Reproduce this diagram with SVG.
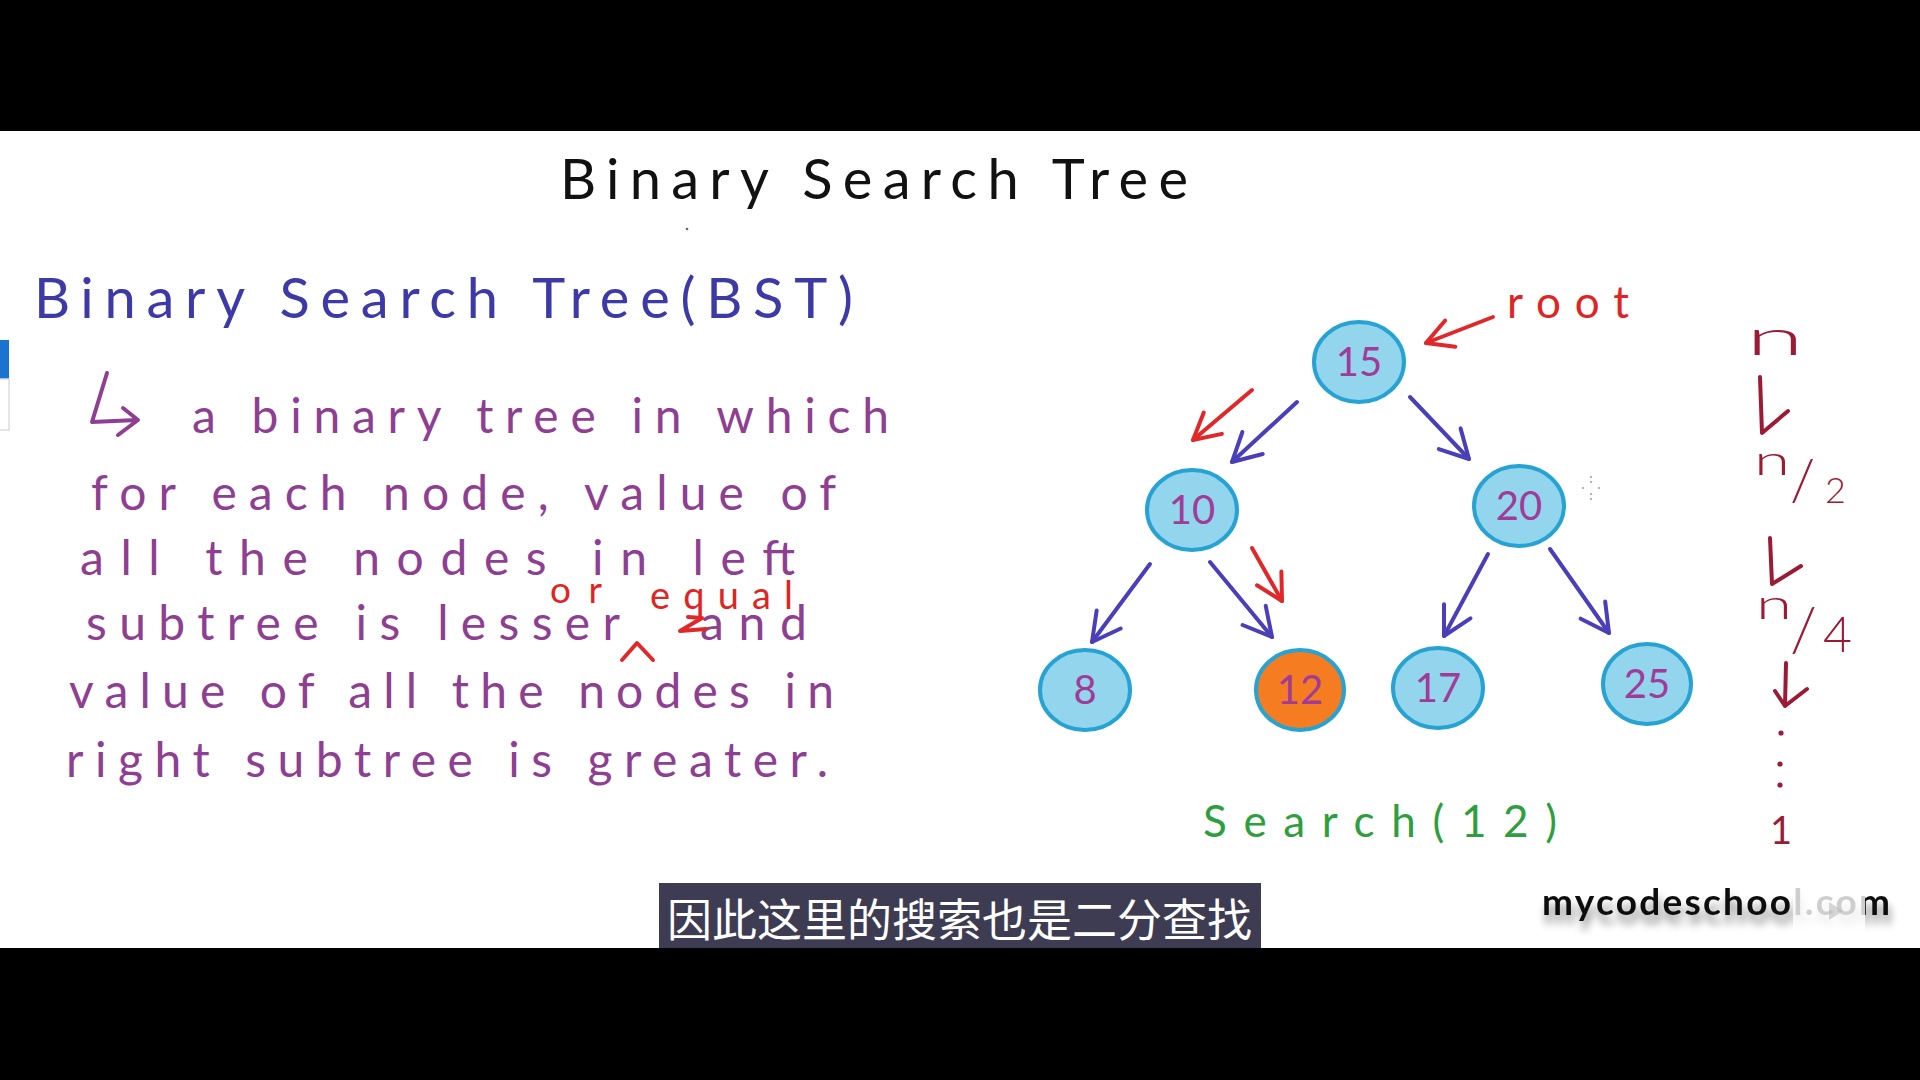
<svg xmlns="http://www.w3.org/2000/svg" width="1920" height="1080" viewBox="0 0 1920 1080">
<style>
.hand{font-family:Lato,"Open Sans","Liberation Sans",sans-serif;}
.title{font-size:56px;fill:#111;}
.head{font-size:56px;fill:#3d3aa8;}
.para{font-size:48px;fill:#8e3f92;}
.redt{fill:#e02424;}
.node{fill:#93d5ec;stroke:#27a3d3;stroke-width:4;}
.node.hit{fill:#f57c20;}
.num{font-size:40px;fill:#a03c98;text-anchor:middle;}
.blue{stroke:#4a3fb8;stroke-width:4;fill:none;stroke-linecap:round;stroke-linejoin:round;}
.red{stroke:#e0282a;stroke-width:4;fill:none;stroke-linecap:round;stroke-linejoin:round;}
.dred{stroke:#9b1b35;stroke-width:4;fill:none;stroke-linecap:round;stroke-linejoin:round;}
.dredt{fill:#9b1b35;}
.pur{stroke:#8e3f92;stroke-width:4;fill:none;stroke-linecap:round;stroke-linejoin:round;}
</style>
<defs>
<marker id="ahBlue" markerUnits="userSpaceOnUse" markerWidth="40" markerHeight="40" refX="0" refY="0" orient="auto" overflow="visible">
<path d="M-28,-15 L0,0 L-28,15" fill="none" stroke="#4a3fb8" stroke-width="4" stroke-linecap="round" stroke-linejoin="round"/>
</marker>
<marker id="ahRed" markerUnits="userSpaceOnUse" markerWidth="40" markerHeight="40" refX="0" refY="0" orient="auto" overflow="visible">
<path d="M-26,-14 L0,0 L-26,14" fill="none" stroke="#e0282a" stroke-width="4" stroke-linecap="round" stroke-linejoin="round"/>
</marker>
<filter id="shadow" x="-10%" y="-50%" width="120%" height="220%">
<feGaussianBlur in="SourceAlpha" stdDeviation="4"/>
<feOffset dx="2" dy="9" result="b"/>
<feComponentTransfer><feFuncA type="linear" slope="0.45"/></feComponentTransfer>
<feMerge><feMergeNode/><feMergeNode in="SourceGraphic"/></feMerge>
</filter>
</defs>

<rect x="0" y="0" width="1920" height="1080" fill="#000"/>
<rect x="0" y="131" width="1920" height="817" fill="#fff"/>

<!-- left edge tab -->
<rect x="0" y="340" width="9" height="39" fill="#1a73d1"/>
<rect x="-1" y="379" width="10" height="51" fill="#fff" stroke="#dcdcdc" stroke-width="1.5"/>

<!-- titles -->
<text class="hand title" x="560" y="199" textLength="628">Binary Search Tree</text>
<circle cx="687" cy="229" r="1.3" fill="#666"/>
<text class="hand head" x="34" y="318" textLength="819">Binary Search Tree(BST)</text>

<!-- definition paragraph -->
<g id="definition">
<path class="pur" d="M107,373 L92,422 L137,420 M123,408 L138,420 L118,435"/>
<text class="hand para" x="192" y="433" textLength="697">a binary tree in which</text>
<text class="hand para" x="91" y="510" textLength="745">for each node, value of</text>
<text class="hand para" x="80" y="575" textLength="715">all the nodes in left</text>
<text class="hand para" x="86" y="640" textLength="534">subtree is lesser</text>
<text class="hand para" x="700" y="640" textLength="107">and</text>
<text class="hand para" x="69" y="708" textLength="765">value of all the nodes in</text>
<text class="hand para" x="66" y="777" textLength="762">right subtree is greater.</text>
<text class="hand redt" x="550" y="603" font-size="37" textLength="52">or</text>
<text class="hand redt" x="650" y="609" font-size="38" textLength="143">equal</text>
<path class="red" stroke-width="3.5" d="M622,660 L637,643 L653,660"/>
<path class="red" stroke-width="3.5" d="M688,617 L702,618 L680,631 L706,629"/>
</g>

<!-- connectors -->
<g id="connectors">
<line class="blue" x1="1297" y1="402" x2="1232" y2="462" marker-end="url(#ahBlue)"/>
<line class="blue" x1="1410" y1="397" x2="1469" y2="459" marker-end="url(#ahBlue)"/>
<line class="blue" x1="1150" y1="564" x2="1092" y2="642" marker-end="url(#ahBlue)"/>
<line class="blue" x1="1210" y1="562" x2="1272" y2="637" marker-end="url(#ahBlue)"/>
<line class="blue" x1="1488" y1="554" x2="1444" y2="636" marker-end="url(#ahBlue)"/>
<line class="blue" x1="1550" y1="549" x2="1609" y2="633" marker-end="url(#ahBlue)"/>
<line class="red" x1="1493" y1="317" x2="1426" y2="343" marker-end="url(#ahRed)"/>
<line class="red" x1="1252" y1="390" x2="1193" y2="440" marker-end="url(#ahRed)"/>
<line class="red" x1="1252" y1="548" x2="1282" y2="601" marker-end="url(#ahRed)"/>
</g>

<!-- nodes -->
<g id="node-15"><ellipse class="node" cx="1359" cy="362" rx="45" ry="40"/><text class="hand num" x="1359" y="376">15</text></g>
<g id="node-10"><ellipse class="node" cx="1192" cy="510" rx="45" ry="40"/><text class="hand num" x="1192" y="524">10</text></g>
<g id="node-20"><ellipse class="node" cx="1519" cy="506" rx="45" ry="40"/><text class="hand num" x="1519" y="520">20</text></g>
<g id="node-8"><ellipse class="node" cx="1085" cy="690" rx="45" ry="40"/><text class="hand num" x="1085" y="704">8</text></g>
<g id="node-12"><ellipse class="node hit" cx="1300" cy="690" rx="44" ry="40"/><text class="hand num" x="1300" y="704">12</text></g>
<g id="node-17"><ellipse class="node" cx="1438" cy="688" rx="45" ry="40"/><text class="hand num" x="1438" y="702">17</text></g>
<g id="node-25"><ellipse class="node" cx="1647" cy="684" rx="44" ry="40"/><text class="hand num" x="1647" y="698">25</text></g>

<!-- labels -->
<text class="hand redt" x="1507" y="318" font-size="44" textLength="122">root</text>
<text class="hand" x="1203" y="837" font-size="44" fill="#2e9e3e" textLength="354">Search(12)</text>

<!-- cursor artifact -->
<g fill="#999">
<circle cx="1591" cy="477" r="1"/><circle cx="1591" cy="482" r="1"/><circle cx="1583" cy="488" r="1"/><circle cx="1599" cy="488" r="1"/><circle cx="1591" cy="494" r="1"/><circle cx="1591" cy="499" r="1"/>
</g>

<!-- complexity column -->
<g id="complexity">
<text class="hand dredt" x="1746" y="355" font-size="50" font-weight="300" textLength="58" lengthAdjust="spacingAndGlyphs">n</text>
<path class="dred" d="M1760,377 L1762,433 L1788,411"/>
<text class="hand dredt" font-weight="300"><tspan x="1754" y="475" font-size="42" textLength="36" lengthAdjust="spacingAndGlyphs">n</tspan><tspan x="1790" y="500" font-size="58">/</tspan><tspan x="1825" y="503" font-size="36">2</tspan></text>
<path class="dred" d="M1770,538 L1772,584 L1801,566"/>
<text class="hand dredt" font-weight="300"><tspan x="1756" y="619" font-size="42" textLength="36" lengthAdjust="spacingAndGlyphs">n</tspan><tspan x="1790" y="651" font-size="62">/</tspan><tspan x="1823" y="652" font-size="50">4</tspan></text>
<path class="dred" d="M1786,663 L1785,706 L1807,689 M1785,706 L1775,691"/>
<circle cx="1781" cy="733" r="2.6" fill="#9b1b35"/>
<circle cx="1780" cy="764" r="2.6" fill="#9b1b35"/>
<circle cx="1780" cy="785" r="2.6" fill="#9b1b35"/>
<text class="hand dredt" x="1770" y="844" font-size="38">1</text>
</g>

<!-- subtitle -->
<rect x="659" y="883" width="602" height="65" fill="#3e3c52"/>
<text x="667" y="937" font-family="'Noto Sans CJK SC',sans-serif" font-size="45" fill="#fff" textLength="585">因此这里的搜索也是二分查找</text>

<!-- watermark -->
<text x="1542" y="915" font-family="Lato,'Liberation Sans',sans-serif" font-weight="bold" font-size="37" fill="#111" textLength="348" filter="url(#shadow)">mycodeschool.com</text>
<g id="player-icon">
<path d="M1815,868 L1823,880 M1843,868 L1835,880" stroke="#fff" stroke-width="5" stroke-linecap="round"/>
<rect x="1793" y="878" width="72" height="74" rx="12" fill="#fff" fill-opacity="0.8"/>
<path d="M1829,902 L1843,911 L1829,920 Z" fill="#bbb" fill-opacity="0.6"/>
</g>
<rect x="0" y="948" width="1920" height="132" fill="#000"/>
</svg>
